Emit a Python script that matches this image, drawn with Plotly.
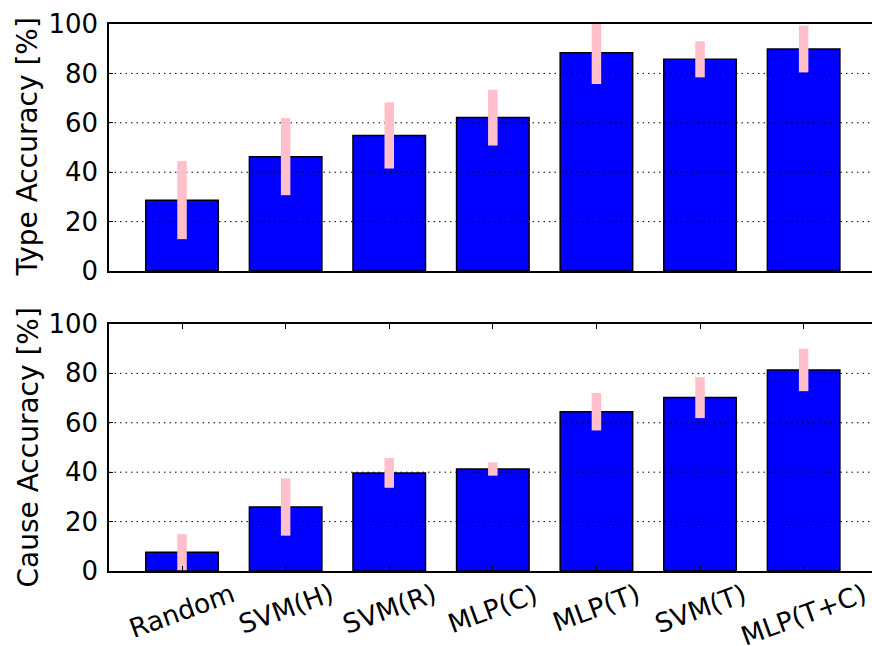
import plotly.graph_objects as go

# Classifier names and accuracies (%) with their spread
methods = ["Random", "SVM(H)", "SVM(R)", "MLP(C)", "MLP(T)", "SVM(T)", "MLP(T+C)"]
type_acc = [28.7, 46.3, 54.9, 62.1, 88.4, 85.7, 89.9]
type_err = [15.8, 15.6, 13.4, 11.3, 12.7, 7.3, 9.5]
cause_acc = [7.6, 25.9, 39.7, 41.3, 64.5, 70.2, 81.4]
cause_err = [7.3, 11.6, 6.0, 2.7, 7.6, 8.3, 8.6]
y_ticks = [0, 20, 40, 60, 80, 100]

W, H = 872, 646
ML, MR, MT, MB = 109, 0, 24, 75
FONT = "DejaVu Sans"
BAR_BLUE = "#0000ff"
PINK = "#ffc0cb"
x_range = [-0.705, 6.66]
top_dom = [0.5484, 1.0]
bot_dom = [0.0, 0.4516]

fig = go.Figure()
xs = list(range(len(methods)))


def add_panel(values, errors, xa, ya):
    # blue bars
    fig.add_trace(go.Bar(
        x=xs, y=values, width=0.7,
        marker=dict(color=BAR_BLUE, line=dict(color="black", width=1.5)),
        xaxis=xa, yaxis=ya, showlegend=False, hoverinfo="skip",
    ))
    # dotted grid drawn over the bars
    gx, gy = [], []
    for t in y_ticks[1:-1]:
        gx += [x_range[0], x_range[1], None]
        gy += [t, t, None]
    fig.add_trace(go.Scatter(
        x=gx, y=gy, mode="lines",
        line=dict(color="black", width=1, dash="1.5px,4px"),
        xaxis=xa, yaxis=ya, showlegend=False, hoverinfo="skip",
    ))
    # pink spread bars on top
    fig.add_trace(go.Scatter(
        x=xs, y=values, mode="markers",
        marker=dict(size=1, opacity=0),
        error_y=dict(type="data", array=errors, visible=True,
                     color=PINK, thickness=9.5, width=0),
        xaxis=xa, yaxis=ya, showlegend=False, hoverinfo="skip",
    ))


add_panel(type_acc, type_err, "x", "y")
add_panel(cause_acc, cause_err, "x2", "y2")

xcommon = dict(range=x_range, showline=True, linecolor="black", linewidth=1.5,
               showgrid=False, zeroline=False, layer="above traces",
               tickvals=xs, showticklabels=False)
ycommon = dict(range=[0, 100], tickvals=y_ticks, showline=True, linecolor="black",
               linewidth=1.5, mirror=False, zeroline=False, showgrid=False,
               ticks="inside", ticklen=4, tickcolor="black", layer="above traces",
               ticklabelstandoff=4,
               tickfont=dict(family=FONT, size=26, color="black"))

fig.update_layout(
    width=W, height=H,
    margin=dict(l=ML, r=MR, t=MT, b=MB),
    paper_bgcolor="white", plot_bgcolor="white",
    xaxis=dict(**xcommon, domain=[0, 1], anchor="y", mirror=True, ticks=""),
    yaxis=dict(**ycommon, domain=top_dom, anchor="x"),
    xaxis2=dict(**xcommon, domain=[0, 1], anchor="y2", mirror="ticks",
                ticks="inside", ticklen=5, tickcolor="black"),
    yaxis2=dict(**ycommon, domain=bot_dom, anchor="x2"),
)

plot_w = W - ML - MR
plot_h = H - MT - MB

# method names, centred under each bar and tilted
for i, name in enumerate(methods):
    fig.add_annotation(
        text=name, textangle=-20, showarrow=False,
        xref="x2", yref="paper", x=i, y=-4 / plot_h,
        xanchor="center", yanchor="top",
        font=dict(family=FONT, size=26.5, color="black"),
    )

title_x = (28 - ML) / plot_w
for text, dom in [("Type Accuracy [%]", top_dom), ("Cause Accuracy [%]", bot_dom)]:
    fig.add_annotation(
        text=text, textangle=-90, showarrow=False,
        xref="paper", yref="paper", x=title_x, y=(dom[0] + dom[1]) / 2,
        xanchor="center", yanchor="middle",
        font=dict(family=FONT, size=28, color="black"),
    )

fig.write_html("out.html")
